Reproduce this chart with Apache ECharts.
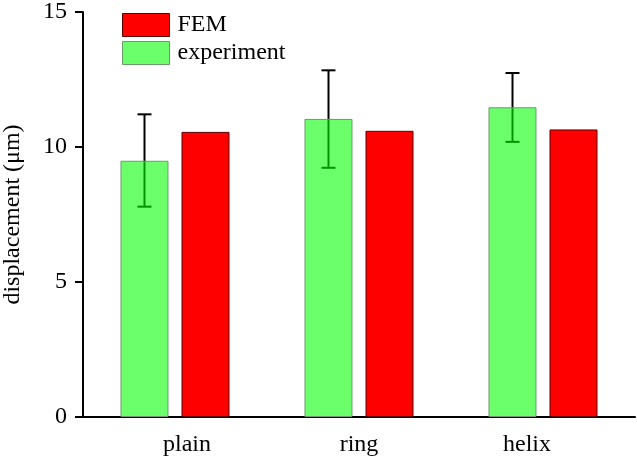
<!DOCTYPE html>
<html>
<head>
<meta charset="utf-8">
<script src="https://cdn.jsdelivr.net/npm/echarts@6/dist/echarts.min.js"></script>
<style>html,body{margin:0;padding:0;background:#fff}#c{width:637px;height:456px}</style>
</head>
<body>
<div id="c"></div>
<script>
const categories = ['plain', 'ring', 'helix'];
const experiment = [9.49, 11.04, 11.47];
const fem = [10.56, 10.60, 10.65];
const errLow = [7.79, 9.23, 10.19];
const errHigh = [11.21, 12.84, 12.74];
const yTicks = [0, 5, 10, 15];

const FONT = 'Liberation Serif';
const BAR_W = 48, BAR_GAP = 13;
const labelShift = [24, 0, -32];

const chart = echarts.init(document.getElementById('c'), null, {renderer: 'canvas'});
const errData = categories.map((c, i) => [i, errLow[i], errHigh[i]]);

chart.setOption({
  animation: false,
  backgroundColor: '#fff',
  grid: {left: 83, right: 2, top: 12, bottom: 39, containLabel: false, outerBoundsMode: 'none'},
  legend: {
    orient: 'vertical', left: 122, top: 13, padding: 0,
    itemWidth: 47, itemHeight: 23, itemGap: 4,
    textStyle: {fontFamily: FONT, fontSize: 24, color: '#000', padding: [0, 0, 0, 3]},
    data: [
      {name: 'FEM', icon: 'rect', itemStyle: {color: '#ff0000', borderColor: '#5a0000', borderWidth: 1}},
      {name: 'experiment', icon: 'rect', itemStyle: {color: 'rgba(0,255,0,0.58)', borderColor: '#6a9a6a', borderWidth: 1}}
    ]
  },
  xAxis: {
    type: 'category', data: categories, boundaryGap: true,
    axisLine: {lineStyle: {color: '#000', width: 2}},
    axisTick: {show: false},
    axisLabel: {
      fontFamily: FONT, fontSize: 24, color: '#000', margin: 16,
      formatter: (v, i) => '{p' + i + '|' + v + '}',
      rich: {
        p0: {fontFamily: FONT, fontSize: 24, color: '#000', padding: [0, 0, 0, labelShift[0]]},
        p1: {fontFamily: FONT, fontSize: 24, color: '#000'},
        p2: {fontFamily: FONT, fontSize: 24, color: '#000', padding: [0, -labelShift[2], 0, 0]}
      }
    },
    splitLine: {show: false}
  },
  yAxis: {
    type: 'value', min: yTicks[0], max: yTicks[yTicks.length - 1], interval: 5,
    name: 'displacement (μm)', nameLocation: 'middle', nameGap: 58,
    nameTextStyle: {fontFamily: FONT, fontSize: 24, color: '#000'},
    axisLine: {show: true, lineStyle: {color: '#000', width: 2}},
    axisTick: {show: true, inside: false, length: 8, lineStyle: {color: '#000', width: 2}},
    axisLabel: {fontFamily: FONT, fontSize: 24, color: '#000', margin: 16},
    splitLine: {show: false}
  },
  series: [
    {
      type: 'custom', name: 'err', z: 1,
      data: errData,
      encode: {x: 0, y: [1, 2]},
      renderItem: function (params, api) {
        const idx = api.value(0);
        const top = api.coord([idx, api.value(2)]);
        const bot = api.coord([idx, api.value(1)]);
        const x = top[0] - (BAR_W + BAR_GAP) / 2;
        const hw = 7;
        const style = {stroke: '#000', lineWidth: 2};
        return {
          type: 'group',
          children: [
            {type: 'line', shape: {x1: x, y1: top[1], x2: x, y2: bot[1]}, style},
            {type: 'line', shape: {x1: x - hw, y1: top[1], x2: x + hw, y2: top[1]}, style},
            {type: 'line', shape: {x1: x - hw, y1: bot[1], x2: x + hw, y2: bot[1]}, style}
          ]
        };
      }
    },
    {
      type: 'bar', name: 'experiment', z: 2, data: experiment,
      barWidth: BAR_W, barGap: (BAR_GAP / BAR_W * 100).toFixed(1) + '%',
      itemStyle: {color: 'rgba(0,255,0,0.58)', borderColor: '#6a9a6a', borderWidth: 1}
    },
    {
      type: 'bar', name: 'FEM', z: 2, data: fem,
      barWidth: BAR_W,
      itemStyle: {color: '#ff0000', borderColor: '#5a0000', borderWidth: 1}
    }
  ]
});
</script>
</body>
</html>
